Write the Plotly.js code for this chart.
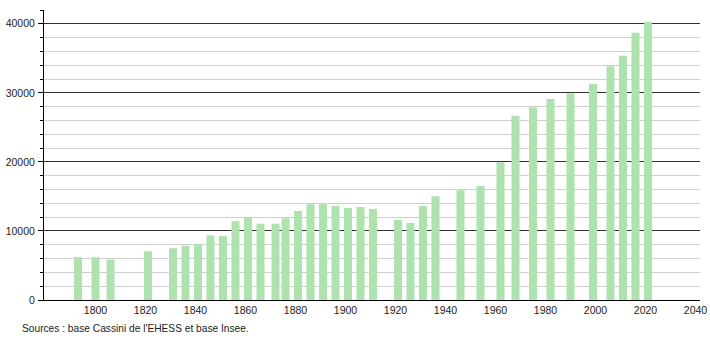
<!DOCTYPE html>
<html>
<head>
<meta charset="utf-8">
<script src="https://cdn.plot.ly/plotly-3.0.1.min.js"></script>
<style>
html,body{margin:0;padding:0;background:#fff;}
#chart{width:710px;height:340px;}
</style>
</head>
<body>
<div id="chart"></div>
<script>
var years = [1793, 1800, 1806, 1821, 1831, 1836, 1841, 1846, 1851, 1856, 1861, 1866, 1872, 1876, 1881, 1886, 1891, 1896, 1901, 1906, 1911, 1921, 1926, 1931, 1936, 1946, 1954, 1962, 1968, 1975, 1982, 1990, 1999, 2006, 2011, 2016, 2021];
var population = [6200, 6200, 5850, 7050, 7500, 7870, 8120, 9370, 9280, 11420, 12000, 11050, 11050, 11840, 12900, 13870, 13890, 13620, 13330, 13480, 13190, 11600, 11160, 13620, 15030, 15900, 16500, 19950, 26700, 27900, 29100, 29950, 31300, 33870, 35360, 38700, 40300];
var xTickVals = [1800, 1820, 1840, 1860, 1880, 1900, 1920, 1940, 1960, 1980, 2000, 2020, 2040];
var yTickVals = [0, 10000, 20000, 30000, 40000];
var sourceText = "Sources : base Cassini de l'EHESS et base Insee.";

var trace = {
  type: 'bar',
  x: years,
  y: population,
  width: 3.2,
  marker: {color: 'rgb(174,226,174)', line: {width: 0}},
  hoverinfo: 'x+y'
};

var layout = {
  width: 710,
  height: 340,
  margin: {l: 44, r: 10, t: 10, b: 40},
  paper_bgcolor: '#fff',
  plot_bgcolor: '#fff',
  showlegend: false,
  font: {family: 'Liberation Sans, Arial, sans-serif', size: 10.5, color: '#222'},
  xaxis: {
    range: [1779.4, 2041.8],
    tickvals: xTickVals,
    ticktext: xTickVals.map(String),
    ticks: '',
    showgrid: false,
    zeroline: false,
    showline: true,
    linecolor: '#000',
    linewidth: 1,
    tickfont: {size: 10.5, color: '#222'},
    fixedrange: true
  },
  yaxis: {
    range: [0, 42000],
    tickvals: yTickVals,
    ticktext: yTickVals.map(String),
    ticks: 'outside',
    ticklen: 5,
    tickcolor: '#000',
    ticklabelstandoff: 1,
    showgrid: true,
    gridcolor: '#333',
    gridwidth: 1,
    zeroline: false,
    showline: true,
    linecolor: '#000',
    linewidth: 1,
    tickfont: {size: 10.5, color: '#222'},
    minor: {
      dtick: 2000,
      tick0: 0,
      ticks: 'outside',
      ticklen: 3,
      tickcolor: '#000',
      showgrid: true,
      gridcolor: '#cfcfcf',
      gridwidth: 1
    },
    fixedrange: true
  },
  annotations: [{
    text: sourceText,
    xref: 'paper', yref: 'paper',
    x: -0.0366, y: -0.0966,
    xanchor: 'left', yanchor: 'middle',
    showarrow: false,
    font: {size: 10.2, color: '#222'}
  }]
};

Plotly.newPlot('chart', [trace], layout, {displayModeBar: false, staticPlot: true});
</script>
</body>
</html>
